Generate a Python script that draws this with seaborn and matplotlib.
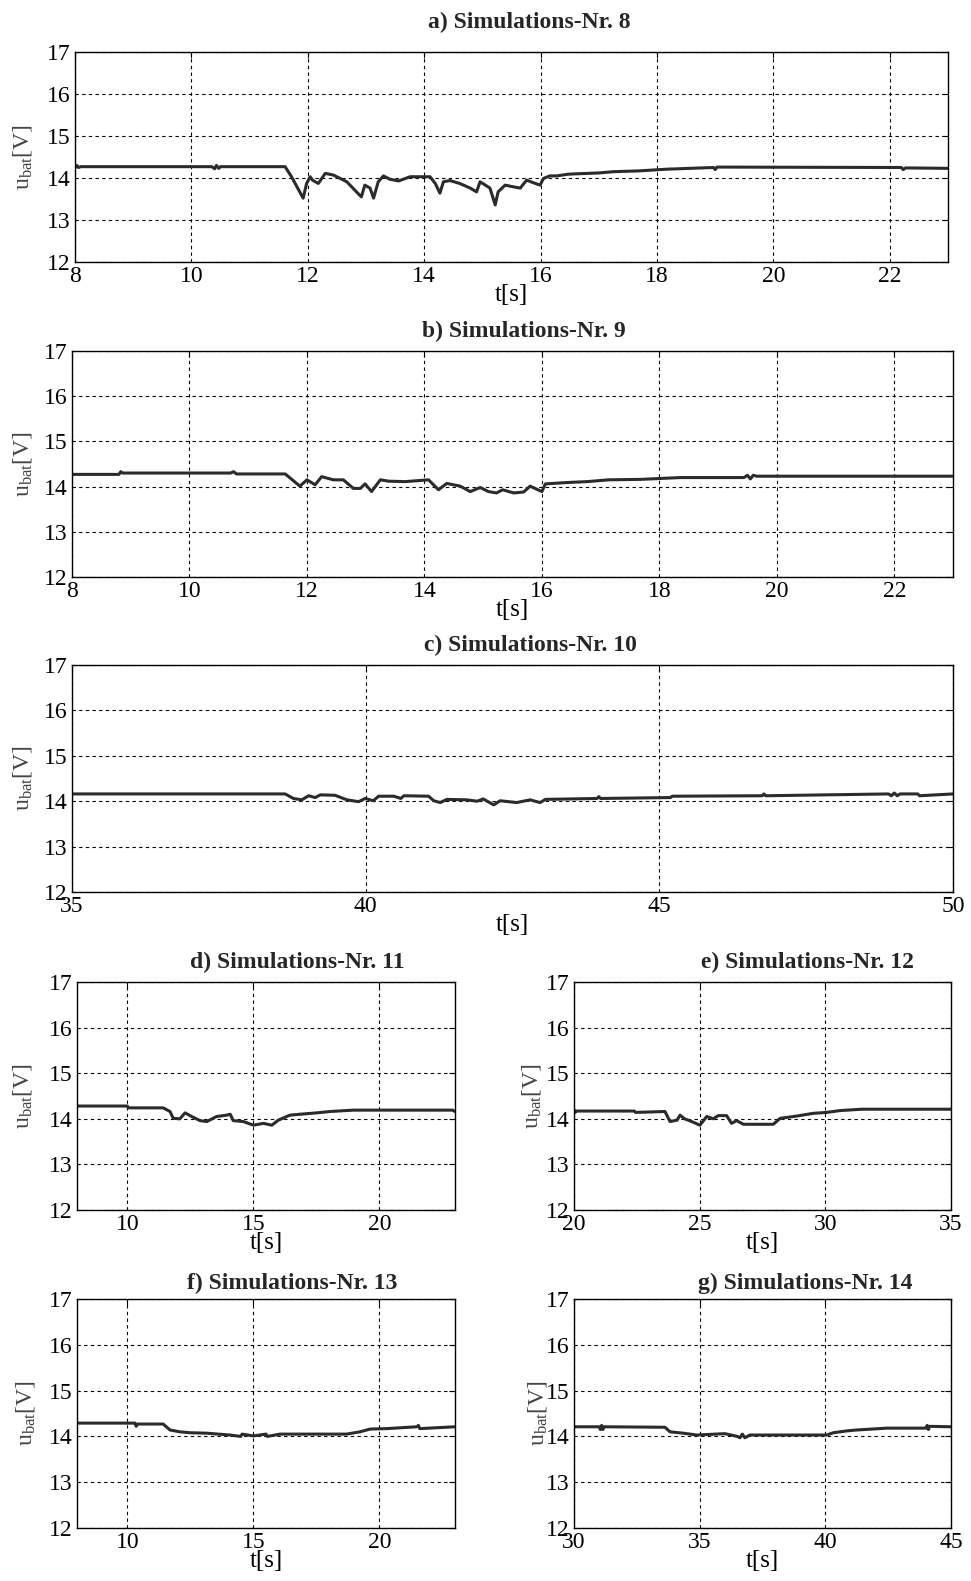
import matplotlib
matplotlib.use("Agg")
import matplotlib.pyplot as plt
import seaborn as sns

# battery voltage traces (t in s, u in V)
t_a = [8.0, 8.03, 8.06, 8.1, 10.35, 10.4, 10.43, 10.47, 10.5, 11.61, 11.72, 11.92, 11.98, 12.04, 12.08, 12.18,
       12.30, 12.44, 12.67, 12.92, 12.98, 13.07, 13.13, 13.21, 13.30, 13.41, 13.56, 13.76, 14.10, 14.19, 14.27,
       14.33, 14.44, 14.61, 14.79, 14.90, 14.96, 15.13, 15.22, 15.27, 15.39, 15.53, 15.65, 15.76, 15.87, 15.99,
       16.05, 16.16, 16.28, 16.47, 16.62, 17.0, 17.25, 17.7, 18.17, 18.97, 19.0, 19.03, 22.2, 22.23, 22.27, 23.0]
u_a = [14.24, 14.30, 14.25, 14.27, 14.27, 14.22, 14.30, 14.23, 14.27, 14.27, 14.03, 13.52, 13.87, 14.03, 13.95, 13.87,
       14.11, 14.07, 13.91, 13.55, 13.83, 13.76, 13.52, 13.91, 14.05, 13.97, 13.93, 14.03, 14.03, 13.87, 13.64,
       13.91, 13.94, 13.87, 13.76, 13.67, 13.91, 13.76, 13.36, 13.67, 13.83, 13.79, 13.76, 13.95, 13.89, 13.83,
       13.99, 14.05, 14.05, 14.09, 14.10, 14.12, 14.15, 14.17, 14.21, 14.25, 14.20, 14.26, 14.25, 14.20, 14.24, 14.23]

t_b = [8.0, 8.8, 8.83, 8.86, 10.7, 10.75, 10.8, 11.63, 11.88, 12.0, 12.14, 12.25, 12.45, 12.62, 12.79, 12.91,
       12.99, 13.10, 13.25, 13.39, 13.67, 14.07, 14.24, 14.38, 14.61, 14.78, 14.95, 15.09, 15.23, 15.33, 15.52,
       15.69, 15.80, 16.0, 16.06, 16.43, 16.77, 17.14, 17.68, 18.36, 19.44, 19.5, 19.55, 19.6, 19.66, 23.0]
u_b = [14.27, 14.27, 14.33, 14.30, 14.30, 14.33, 14.28, 14.28, 14.01, 14.15, 14.04, 14.22, 14.15, 14.15, 13.96, 13.96,
       14.06, 13.89, 14.15, 14.12, 14.11, 14.15, 13.93, 14.07, 14.01, 13.89, 13.98, 13.89, 13.86, 13.93, 13.86,
       13.88, 14.01, 13.89, 14.06, 14.09, 14.11, 14.15, 14.16, 14.20, 14.20, 14.25, 14.17, 14.25, 14.23, 14.23]

t_c = [35.0, 38.63, 38.77, 38.91, 39.03, 39.14, 39.23, 39.48, 39.68, 39.88, 39.99, 40.13, 40.22, 40.48, 40.6,
       40.65, 41.07, 41.16, 41.27, 41.38, 41.72, 41.9, 42.0, 42.18, 42.29, 42.57, 42.80, 42.97, 43.06, 43.94,
       43.97, 44.0, 45.19, 45.22, 46.75, 46.78, 46.81, 48.9, 48.95, 49.0, 49.05, 49.1, 49.4, 49.43, 50.0]
u_c = [14.16, 14.16, 14.06, 14.03, 14.12, 14.08, 14.14, 14.13, 14.03, 13.99, 14.06, 14.01, 14.11, 14.11, 14.06,
       14.12, 14.11, 14.01, 13.97, 14.04, 14.03, 14.0, 14.05, 13.92, 14.01, 13.97, 14.03, 13.97, 14.04, 14.06,
       14.10, 14.06, 14.08, 14.11, 14.12, 14.16, 14.12, 14.16, 14.12, 14.18, 14.12, 14.16, 14.16, 14.12, 14.16]

t_d = [8.0, 10.0, 10.03, 11.42, 11.69, 11.82, 12.08, 12.29, 12.55, 12.88, 13.15, 13.54, 13.94, 14.08, 14.2,
       14.6, 15.0, 15.4, 15.73, 15.99, 16.45, 16.85, 17.51, 18.04, 18.96, 22.9, 23.0]
u_d = [14.28, 14.28, 14.24, 14.24, 14.16, 14.01, 14.0, 14.13, 14.05, 13.96, 13.94, 14.05, 14.08, 14.10, 13.96,
       13.94, 13.86, 13.90, 13.86, 13.97, 14.08, 14.10, 14.13, 14.16, 14.19, 14.19, 14.16]

t_e = [20.0, 20.05, 20.1, 22.4, 22.45, 23.62, 23.82, 24.1, 24.22, 24.4, 24.68, 25.01, 25.28, 25.54, 25.74,
       26.07, 26.27, 26.47, 26.74, 27.93, 28.2, 28.86, 29.52, 30.05, 30.58, 31.45, 35.0]
u_e = [14.20, 14.14, 14.17, 14.17, 14.14, 14.16, 13.94, 13.97, 14.08, 14.0, 13.94, 13.86, 14.05, 14.0, 14.07,
       14.07, 13.90, 13.96, 13.88, 13.88, 14.01, 14.06, 14.12, 14.14, 14.18, 14.21, 14.21]

t_f = [8.0, 10.3, 10.35, 10.4, 11.42, 11.69, 12.08, 12.48, 13.15, 14.07, 14.5, 14.55, 15.0, 15.5, 15.55,
       16.06, 18.70, 19.23, 19.63, 20.29, 21.48, 21.55, 21.6, 23.0]
u_f = [14.29, 14.29, 14.22, 14.27, 14.27, 14.14, 14.10, 14.08, 14.07, 14.03, 14.0, 14.05, 14.01, 14.05, 14.0,
       14.05, 14.05, 14.10, 14.16, 14.17, 14.21, 14.24, 14.17, 14.21]

t_g = [30.0, 31.0, 31.05, 31.1, 31.15, 31.2, 33.62, 33.82, 34.35, 34.88, 36.0, 36.5, 36.6, 36.7, 36.8, 37.0,
       37.5, 40.05, 40.32, 40.85, 41.25, 42.44, 44.0, 44.05, 44.1, 44.15, 45.0]
u_g = [14.21, 14.21, 14.15, 14.24, 14.15, 14.21, 14.20, 14.10, 14.07, 14.03, 14.06, 14.0, 13.97, 14.05, 13.97, 14.03,
       14.03, 14.03, 14.08, 14.12, 14.14, 14.18, 14.18, 14.24, 14.15, 14.22, 14.21]

titles = ["a) Simulations-Nr. 8", "b) Simulations-Nr. 9", "c) Simulations-Nr. 10", "d) Simulations-Nr. 11",
          "e) Simulations-Nr. 12", "f) Simulations-Nr. 13", "g) Simulations-Nr. 14"]
xlims = [(8, 23), (8, 23), (35, 50), (8, 23), (20, 35), (8, 23), (30, 45)]
xticks = [[8, 10, 12, 14, 16, 18, 20, 22], [8, 10, 12, 14, 16, 18, 20, 22], [35, 40, 45, 50],
          [10, 15, 20], [20, 25, 30, 35], [10, 15, 20], [30, 35, 40, 45]]
yticks = [12, 13, 14, 15, 16, 17]

sns.set_theme(style="white")
plt.rcParams['font.family'] = ['Liberation Serif', 'DejaVu Serif']
plt.rcParams['mathtext.fontset'] = 'custom'
plt.rcParams['mathtext.rm'] = 'Liberation Serif'
plt.rcParams['mathtext.it'] = 'Liberation Serif:italic'

W, H = 971, 1581
fig = plt.figure(figsize=(W / 100, H / 100), dpi=100)

# layout in pixels: axes box (l, t, r, b), title centre, ylabel right edge
boxes = [(75, 52, 948, 262), (72, 351, 953, 577), (72, 665, 953, 892),
         (77, 982, 455, 1210), (574, 982, 951, 1210), (77, 1299, 455, 1528), (574, 1299, 951, 1528)]
title_pos = [(529, 22), (524, 331), (530, 645), (297, 962), (807, 962), (292, 1283), (805, 1283)]
ylab_x = [34, 34, 34, 34, 543, 37, 549]

series = [(t_a, u_a), (t_b, u_b), (t_c, u_c), (t_d, u_d), (t_e, u_e), (t_f, u_f), (t_g, u_g)]

for i, (t, u) in enumerate(series):
    l, tp, r, b = boxes[i]
    ax = fig.add_axes([l / W, 1 - b / H, (r - l) / W, (b - tp) / H])
    sns.lineplot(x=t, y=u, ax=ax, color='#2b2b2b', lw=2.2, estimator=None, sort=False)
    ax.set_xlim(*xlims[i])
    ax.set_ylim(12, 17)
    ax.set_xticks(xticks[i])
    ax.set_yticks(yticks)
    ax.grid(True, color='black', ls=(0, (3, 3)), lw=0.8)
    for s in ax.spines.values():
        s.set_color('black')
        s.set_linewidth(1.0)
    ax.tick_params(direction='in', top=True, right=True, length=4, width=0.8,
                   labelsize=17, pad=3, colors='black')
    ax.set_xlabel('t[s]', fontsize=18, labelpad=-2, color='black')
    ax.set_ylabel(r'u$_{\mathrm{bat}}$[V]', fontsize=17, color='#444444')
    ax.yaxis.set_label_coords((ylab_x[i] - l) / (r - l), 0.5)
    fig.text(title_pos[i][0] / W, 1 - title_pos[i][1] / H, titles[i], ha='center', va='center',
             fontsize=17, fontweight='bold')

fig.savefig('out.png', dpi=100)
